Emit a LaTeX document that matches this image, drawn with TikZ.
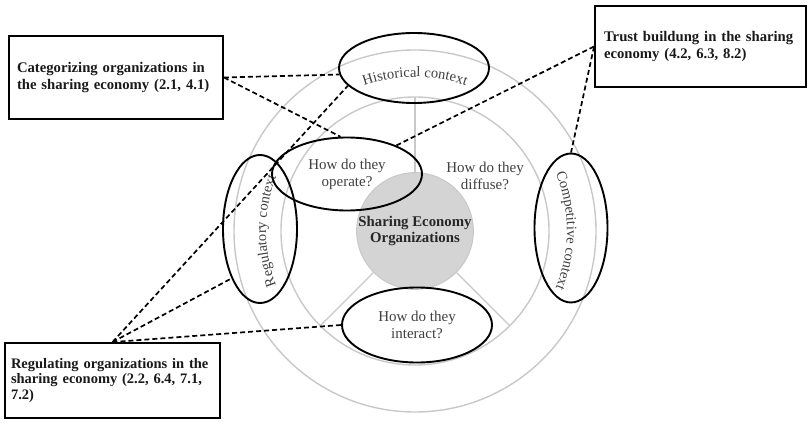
\documentclass[tikz,border=0pt]{standalone}
\usepackage{fontspec}
\setmainfont{Liberation Serif}
\usetikzlibrary{positioning, shapes.geometric, decorations.text}
\definecolor{ringgray}{HTML}{C8C8C8}
\definecolor{hubgray}{HTML}{D4D4D4}
\definecolor{txtgray}{HTML}{404040}
\newcommand{\ctxfont}{\fontsize{14.5}{17}\selectfont\color{txtgray}}
\newcommand{\qfont}{\fontsize{15}{17}\selectfont\color{txtgray}}
\tikzset{
  ring/.style    = {draw=ringgray, line width=1.4pt},
  hub/.style     = {circle, draw=ringgray, fill=hubgray, line width=1pt,
                    minimum size=114pt, inner sep=0pt, align=center,
                    font=\fontsize{14.8}{16}\selectfont\bfseries, text=black!85},
  ctx/.style     = {ellipse, draw, line width=1.9pt, inner sep=0pt,
                    align=center, font=\qfont},
  topic/.style   = {draw, rectangle, line width=1.9pt, align=left, inner ysep=0pt,
                    font=\fontsize{14.7}{17}\selectfont\bfseries, text=black!90},
  link/.style    = {line width=1.7pt, dash pattern=on 5pt off 3pt},
  arctext/.style = {decorate, decoration={text along path, text align=center,
                    text={#1}}},
}

\begin{document}
\begin{tikzpicture}[x=1pt, y=1pt]
  \useasboundingbox (0,0) rectangle (808,-427);
  \coordinate (c) at (415,-231);
  % rings and spokes
  \draw[ring] (c) circle[radius=181];
  \draw[ring] (c) circle[radius=134];
  \node[hub] (hub) at (c) {Sharing Economy\\Organizations};
  \foreach \a in {90,225,315} {
    \coordinate (s\a) at ([shift={(\a:134)}]c);
    \draw[ring] (hub.\a) -- (s\a);
  }
  % contexts
  \node[ctx, minimum width=150pt, minimum height=70pt]  (hist)  at (414,-68)  {};
  \node[ctx, minimum width=74pt,  minimum height=148pt] (regul) at (260,-229) {};
  \node[ctx, minimum width=73pt,  minimum height=149pt] (comp)  at (571,-228) {};
  \path[arctext={|\ctxfont|Historical context}]
    ([shift={(125:154)}]c) arc[start angle=125, end angle=55, radius=154];
  \path[arctext={|\ctxfont|Regulatory context}]
    ([shift={(210:149)}]c) arc[start angle=210, end angle=150, radius=149];
  \path[arctext={|\ctxfont|Competitive context}]
    ([shift={(30:152)}]c) arc[start angle=30, end angle=-30, radius=152];
  % questions
  \node[ctx, minimum width=150pt, minimum height=73pt] (op)    at (347,-174) {How do they\\operate?};
  \node[ctx, minimum width=150pt, minimum height=75pt] (inter) at (417,-325) {How do they\\interact?};
  \node[font=\qfont, align=center] (diff) at (485,-176) {How do they\\diffuse?};
  % topics
  \node[topic, minimum width=214pt, minimum height=83pt, text width=198pt, inner xsep=8pt]
    (cat) at (116,-77.5) {Categorizing organizations in\\the sharing economy (2.1, 4.1)};
  \node[topic, minimum width=211pt, minimum height=81pt, text width=193pt, inner xsep=9pt]
    (trust) at (700.5,-46.5) {Trust buildung in the sharing\\economy (4.2, 6.3, 8.2)};
  \node[topic, minimum width=215pt, minimum height=75pt, text width=203pt, inner xsep=6pt,
        font=\fontsize{14.5}{15.5}\selectfont\bfseries]
    (reg) at (112.5,-380.5) {Regulating organizations in the\\sharing economy (2.2, 6.4, 7.1,\\7.2)};
  % links
  \draw[link] (cat.east) -- (hist.185);
  \draw[link] (cat.east) -- (op.100);
  \draw[link] (trust.west) -- (op.30);
  \draw[link] (trust.west) -- (comp.north);
  \draw[link] (reg.north) -- (hist.195);
  \draw[link] (reg.north) -- (regul.240);
  \draw[link] (reg.north) -- (inter.west);
\end{tikzpicture}
\end{document}
